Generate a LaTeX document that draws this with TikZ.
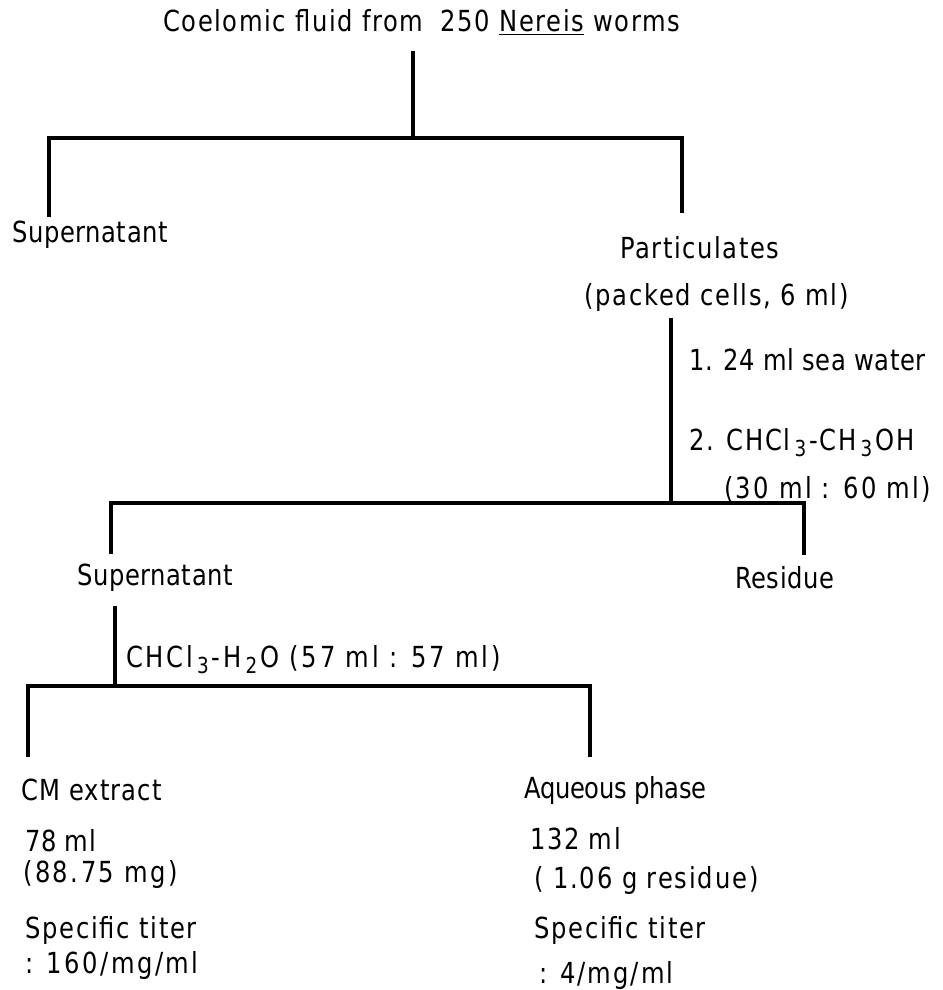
\documentclass[tikz,border=0pt]{standalone}
\usepackage{fontspec}
\setmainfont{DejaVu Sans}[FakeStretch=0.835,LetterSpace=2]
\newcommand{\sbx}[1]{\hspace{4pt}\raisebox{-0.42ex}{\fontsize{22}{22}\selectfont #1}\hspace{3pt}}
\newcommand{\ls}[1]{\addfontfeatures{LetterSpace=#1}}
\begin{document}
\begin{tikzpicture}[x=1pt,y=-1pt,
  lbl/.style={anchor=base west,inner sep=0pt,font=\fontsize{29}{33}\selectfont},
  ln/.style={line width=3.2pt,line cap=rect}]
\useasboundingbox (0,0) rectangle (942,990);
% texts
\node[lbl] (title) at (163,32) {\ls{5.5}Coelomic fluid from\hspace{0.6em}250 \underline{Nereis} worms};
\node[lbl] (sup1) at (12,242) {Supernatant};
\node[lbl] (part) at (620,258) {\ls{5.5}Particulates};
\node[lbl] (packed) at (584,305) {\ls{6}(packed cells, 6 ml)};
\node[lbl] (step1) at (689,370) {1. 24 ml sea water};
\node[lbl] (step2) at (689,450) {\ls{6}2. CHCl\sbx{3}-CH\sbx{3}OH};
\node[lbl] (ratio1) at (724,498) {\ls{8}(30 ml : 60 ml)};
\node[lbl] (sup2) at (77,585) {Supernatant};
\node[lbl] (res) at (735,588) {Residue};
\node[lbl] (step3) at (126,667) {\ls{9.5}CHCl\sbx{3}-H\sbx{2}O (57 ml : 57 ml)};
\node[lbl] (cm) at (21,800) {\ls{4}CM extract};
\node[lbl] (cmvol) at (25,851) {78 ml};
\node[lbl] (cmmass) at (23,882) {\ls{8.5}(88.75 mg)};
\node[lbl] (cmst) at (25,938) {\ls{6}Specific titer};
\node[lbl] (cmval) at (25,973) {\ls{8.5}: 160/mg/ml};
\node[lbl] (aq) at (524,798) {\ls{-1}Aqueous phase};
\node[lbl] (aqvol) at (530,849) {\ls{5.6}132 ml};
\node[lbl] (aqmass) at (534,888) {\ls{6.3}( 1.06 g residue)};
\node[lbl] (aqst) at (534,938) {\ls{6}Specific titer};
\node[lbl] (aqval) at (539,983) {\ls{7}: 4/mg/ml};
% junction coordinates
\coordinate (a0) at (413,53);
\coordinate (a1) at (413,138);
\coordinate (aL) at (49,138);
\coordinate (aR) at (682,138);
\coordinate (aLe) at (49,215);
\coordinate (aRe) at (682,211);
\coordinate (b0) at (671,320);
\coordinate (b1) at (671,503);
\coordinate (bL) at (111,503);
\coordinate (bR) at (804,503);
\coordinate (bLe) at (111,552);
\coordinate (bRe) at (804,553);
\coordinate (c0) at (115,608);
\coordinate (c1) at (115,686);
\coordinate (cL) at (28,686);
\coordinate (cR) at (590,686);
\coordinate (cLe) at (28,755);
\coordinate (cRe) at (590,755);
% connectors
\draw[ln] (a0) -- (a1);
\draw[ln] (aLe) -- (aL) -- (aR) -- (aRe);
\draw[ln] (b0) -- (b1);
\draw[ln] (bLe) -- (bL) -- (bR) -- (bRe);
\draw[ln] (c0) -- (c1);
\draw[ln] (cLe) -- (cL) -- (cR) -- (cRe);
\end{tikzpicture}
\end{document}
